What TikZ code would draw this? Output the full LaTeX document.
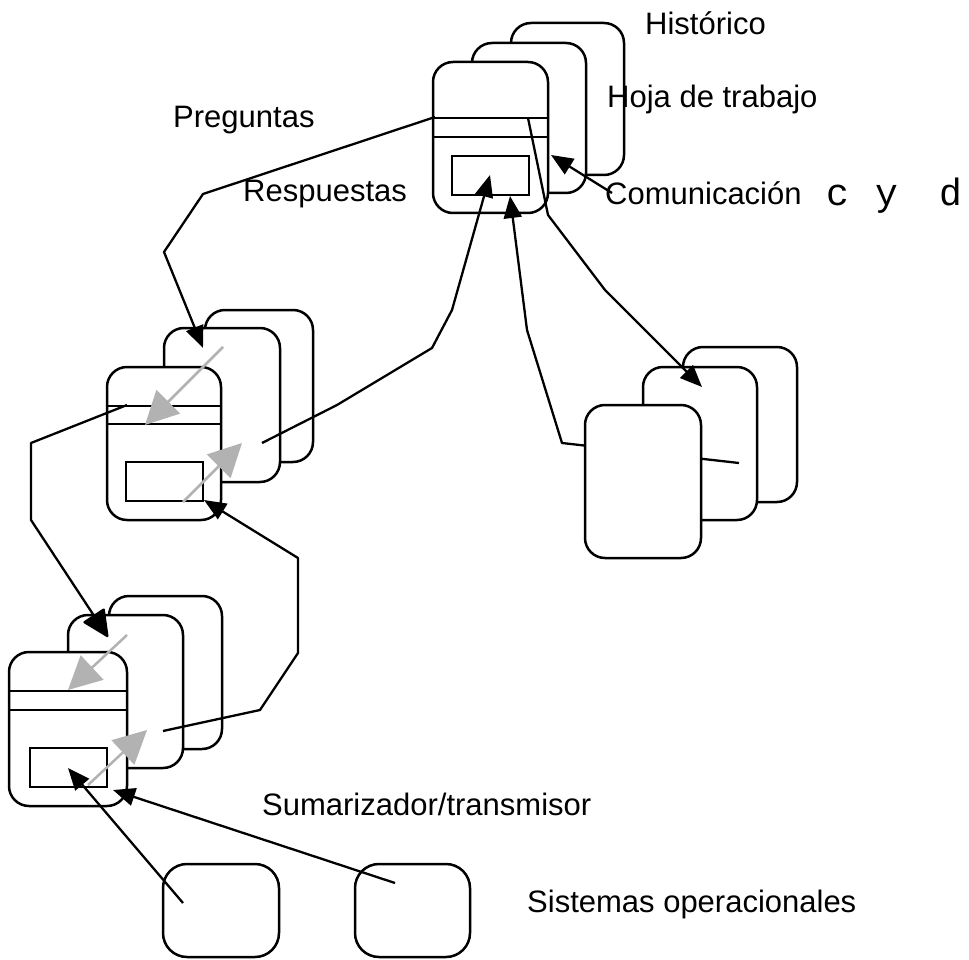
\documentclass[tikz,border=0pt]{standalone}
\usepackage{fontspec}
\setmainfont{Liberation Sans}
\newfontfamily\cydfont{Liberation Mono}
\usetikzlibrary{arrows.meta}
\definecolor{arrgray}{HTML}{B2B2B2}
\begin{document}
\begin{tikzpicture}[x=1pt,y=-1pt,
  card/.style={draw, line width=2.5pt, rounded corners=20pt, fill=white, inner sep=0pt},
  inbox/.style={draw, line width=2.5pt, fill=white, inner sep=0pt, minimum width=77pt, minimum height=39pt},
  sep/.style={line width=2.5pt},
  conn/.style={line width=2.3pt, line join=round, -{Triangle[length=22pt,width=18pt]}},
  bigconn/.style={line width=2.3pt, line join=round, -{Triangle[length=28pt,width=26pt,round]}},
  garrow/.style={draw=arrgray, line width=2.5pt, -{Triangle[length=33pt,width=33pt]}, color=arrgray},
  lbl/.style={anchor=base west, inner sep=0pt, font=\fontsize{31}{37}\selectfont}]
\useasboundingbox[fill=white] (0,0) rectangle (969,960);

% ---------- top cluster ----------
\node[card, minimum width=113pt, minimum height=152pt] (t3) at (567.5,99) {};
\node[card, minimum width=114pt, minimum height=150pt] (t2) at (529,118) {};
\node[card, minimum width=115pt, minimum height=151pt] (t1) at (490.5,137.5) {};
\draw[sep] (433,118) -- (548,118);
\draw[sep] (433,137) -- (548,137);
\node[inbox] (t1in) at (490.5,175.5) {};

% ---------- middle-left cluster ----------
\node[card, minimum width=108pt, minimum height=152pt] (m3) at (259,386) {};
\node[card, minimum width=116pt, minimum height=154pt] (m2) at (222,405) {};
\node[card, minimum width=114pt, minimum height=153pt] (m1) at (164,443.5) {};
\draw[sep] (107,406) -- (221,406);
\draw[sep] (107,424) -- (221,424);
\node[inbox] (m1in) at (164.5,481.5) {};

% ---------- bottom-left cluster ----------
\node[card, minimum width=113pt, minimum height=153pt] (b3) at (165.5,672.5) {};
\node[card, minimum width=115pt, minimum height=153pt] (b2) at (125.5,691.5) {};
\node[card, minimum width=118pt, minimum height=154pt] (b1) at (68,729) {};
\draw[sep] (9,691) -- (127,691);
\draw[sep] (9,710) -- (127,710);
\node[inbox] (b1in) at (68.5,767.5) {};

% ---------- right cluster ----------
\node[card, minimum width=114pt, minimum height=155pt] (r3) at (740,424.5) {};
\node[card, minimum width=114pt, minimum height=153pt] (r2) at (700,443.5) {};
% connector from right cluster up to the top card (passes under front card)
\coordinate (rs) at (739,463);
\coordinate (t1tip) at (510,196);
\draw[conn] (rs) -- (562,443) -- (527,330) -- (t1tip);
\node[card, minimum width=116pt, minimum height=153pt] (r1) at (643,481.5) {};

% ---------- operational systems ----------
\node[card, rounded corners=24pt, minimum width=116pt, minimum height=93pt] (s1) at (221,910.5) {};
\node[card, rounded corners=24pt, minimum width=115pt, minimum height=93pt] (s2) at (412.5,910.5) {};

% ---------- connector endpoints ----------
\coordinate (tq) at (435,117);
\coordinate (m2tip) at (203,348);
\coordinate (mq) at (127,405);
\coordinate (b2tip) at (108,637);
\coordinate (bresp) at (163,731);
\coordinate (m1tip) at (204,500);
\coordinate (mresp) at (262,443);
\coordinate (t1intip) at (490,175);
\coordinate (tw) at (528,118);
\coordinate (r2tip) at (702,387);
\coordinate (com) at (612,193);
\coordinate (t2tip) at (551,155);
\coordinate (s1s) at (183,903);
\coordinate (s2s) at (395,883);
\coordinate (b1tip) at (68,768);
\coordinate (b1tip2) at (113,790);

% ---------- black connectors ----------
\draw[conn] (tq) -- (203,194) -- (164,252) -- (m2tip);
\draw[bigconn] (mq) -- (31,443) -- (31,520) -- (b2tip);
\draw[conn] (bresp) -- (260,710) -- (298,653) -- (298,558) -- (m1tip);
\draw[conn] (mresp) -- (337,405) -- (432,348) -- (452,310) -- (t1intip);
\draw[conn] (tw) -- (548,215) -- (605,290) -- (r2tip);
\draw[conn] (com) -- (t2tip);
\draw[conn] (s1s) -- (b1tip);
\draw[conn] (s2s) -- (b1tip2);

% ---------- gray arrows ----------
\coordinate (g1s) at (127,635); \coordinate (g1e) at (68,690);
\coordinate (g2s) at (88,785);  \coordinate (g2e) at (147,730);
\coordinate (g3s) at (223,347); \coordinate (g3e) at (145,425);
\coordinate (g4s) at (183,502); \coordinate (g4e) at (242,443);
\draw[garrow] (g1s) -- (g1e);
\draw[garrow] (g2s) -- (g2e);
\draw[garrow] (g3s) -- (g3e);
\draw[garrow] (g4s) -- (g4e);

% ---------- labels ----------
\node[lbl] (lhist) at (645,35) {Histórico};
\node[lbl] (lhoja) at (607,108) {Hoja de trabajo};
\node[lbl] (lpreg) at (173,128) {Preguntas};
\node[lbl] (lresp) at (243,202) {Respuestas};
\node[lbl] (lcom) at (605,205) {Comunicación};
\node[anchor=base west, inner sep=0pt, font=\cydfont\fontsize{38}{40}\selectfont] (lcyd) at (826,206) {c\hspace{26pt}y\hspace{42pt}d};
\node[lbl] (lsum) at (262,815) {Sumarizador/transmisor};
\node[lbl] (lsis) at (527,912) {Sistemas operacionales};
\end{tikzpicture}
\end{document}
